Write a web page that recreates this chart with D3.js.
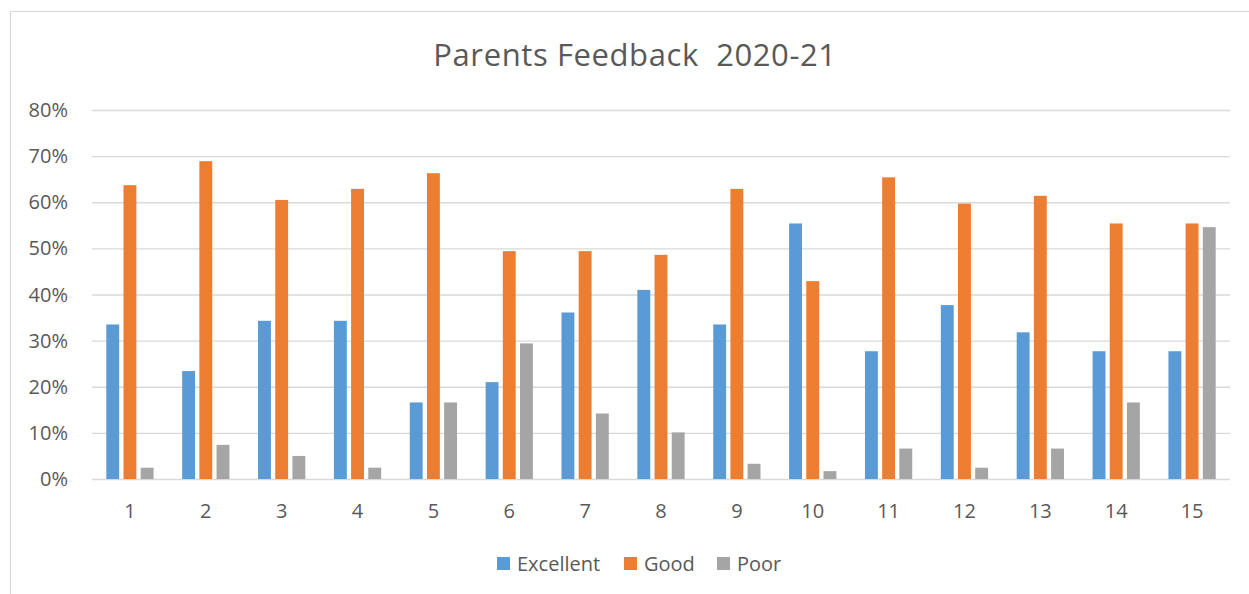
<!DOCTYPE html>
<html>
<head>
<meta charset="utf-8">
<script src="https://cdn.jsdelivr.net/npm/d3@7"></script>
<style>
  html, body { margin: 0; padding: 0; background: #fff; }
  svg { display: block; }
  text { font-family: "Open Sans", "Noto Sans", sans-serif; fill: #595959; }
</style>
</head>
<body>
<svg id="chart" width="1249" height="594"></svg>
<script>
const categories = ["1","2","3","4","5","6","7","8","9","10","11","12","13","14","15"];
const seriesNames = ["Excellent", "Good", "Poor"];
const excellent = [33.5, 23.4, 34.3, 34.3, 16.6, 21.0, 36.1, 41.0, 33.5, 55.4, 27.7, 37.7, 31.8, 27.7, 27.7];
const good      = [63.7, 68.9, 60.5, 62.9, 66.3, 49.4, 49.4, 48.6, 62.9, 42.9, 65.4, 59.7, 61.4, 55.4, 55.4];
const poor      = [2.45, 7.4, 5.0, 2.45, 16.6, 29.4, 14.2, 10.1, 3.3, 1.7, 6.6, 2.45, 6.6, 16.6, 54.6];
const yTicks = [0, 10, 20, 30, 40, 50, 60, 70, 80];
const colors = ["#5B9BD5", "#ED7D31", "#A5A5A5"];
const title = "Parents Feedback  2020-21";

const seriesValues = [excellent, good, poor];
const svg = d3.select("#chart");

// chart border
svg.append("rect")
  .attr("x", 10.5).attr("y", 11.5)
  .attr("width", 1260).attr("height", 600)
  .attr("fill", "none").attr("stroke", "#d9d9d9").attr("stroke-width", 1.2);

const plot = { left: 92, right: 1230, top: 110, bottom: 479 };

const y = d3.scaleLinear().domain([0, 80]).range([plot.bottom, plot.top]);
const x0 = d3.scaleBand().domain(categories).range([plot.left, plot.right])
  .paddingInner(0.377).paddingOuter(0.1885);
const x1 = d3.scaleBand().domain(seriesNames).range([0, x0.bandwidth()])
  .paddingInner(0.25).paddingOuter(0);

// gridlines
svg.append("g").selectAll("line").data(yTicks).join("line")
  .attr("x1", plot.left).attr("x2", plot.right)
  .attr("y1", d => y(d) + 0.5).attr("y2", d => y(d) + 0.5)
  .attr("stroke", "#d9d9d9").attr("stroke-width", 1.3);

// y labels
svg.append("g").selectAll("text").data(yTicks).join("text")
  .attr("x", 68).attr("y", d => y(d) + 7)
  .attr("text-anchor", "end")
  .attr("font-size", 20)
  .text(d => d + "%");

// bars
const groups = svg.append("g").selectAll("g").data(categories).join("g")
  .attr("transform", d => `translate(${x0(d)},0)`);
groups.selectAll("rect")
  .data((c, i) => seriesNames.map((s, j) => ({ s, j, v: seriesValues[j][i] })))
  .join("rect")
  .attr("x", d => x1(d.s))
  .attr("width", x1.bandwidth())
  .attr("y", d => y(d.v))
  .attr("height", d => y(0) - y(d.v))
  .attr("fill", d => colors[d.j]);

// x labels
svg.append("g").selectAll("text").data(categories).join("text")
  .attr("x", d => x0(d) + x0.bandwidth() / 2)
  .attr("y", 518)
  .attr("text-anchor", "middle")
  .attr("font-size", 20)
  .text(d => d);

// title
svg.append("text")
  .attr("x", 635).attr("y", 66)
  .attr("text-anchor", "middle")
  .attr("font-size", 31)
  .attr("letter-spacing", 0.6)
  .attr("xml:space", "preserve")
  .style("white-space", "pre")
  .text(title);

// legend
const legendX = [497, 624, 717];
const lg = svg.append("g").selectAll("g").data(seriesNames).join("g")
  .attr("transform", (d, i) => `translate(${legendX[i]},0)`);
lg.append("rect").attr("x", 0).attr("y", 557).attr("width", 13).attr("height", 13)
  .attr("fill", (d, i) => colors[i]);
lg.append("text").attr("x", 20).attr("y", 570.5).attr("font-size", 20).text(d => d);
</script>
</body>
</html>
